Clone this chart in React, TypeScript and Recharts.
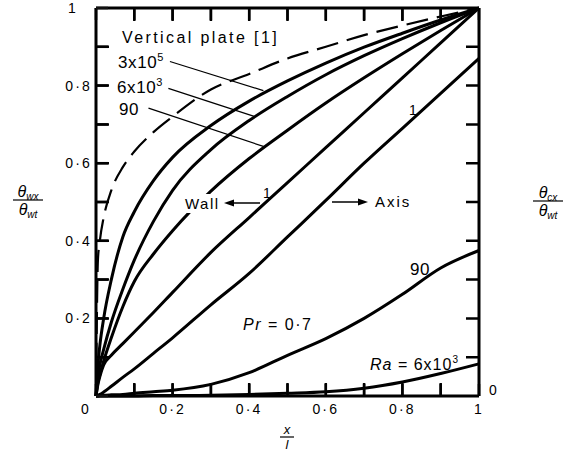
import React from "react";
import { LineChart, Line, XAxis, YAxis, ReferenceLine } from "recharts";

// x/l sample positions shared by every curve
const xs = [0, 0.005, 0.01, 0.02, 0.04, 0.07, 0.1, 0.15, 0.2, 0.3, 0.4, 0.5, 0.6, 0.7, 0.8, 0.9, 1];

// wall temperature curves (left axis)
const plate = [0, 0.35, 0.4, 0.46, 0.53, 0.59, 0.63, 0.68, 0.72, 0.79, 0.83, 0.87, 0.9, 0.93, 0.955, 0.978, 1];
const wall3e5 = [0, 0.08, 0.13, 0.2, 0.3, 0.41, 0.475, 0.555, 0.615, 0.697, 0.76, 0.812, 0.858, 0.899, 0.935, 0.969, 1];
const wall6e3 = [0, 0.05, 0.08, 0.12, 0.19, 0.275, 0.35, 0.45, 0.53, 0.635, 0.71, 0.772, 0.828, 0.877, 0.921, 0.962, 1];
const wall90 = [0, 0.035, 0.055, 0.09, 0.15, 0.23, 0.295, 0.366, 0.426, 0.528, 0.612, 0.685, 0.755, 0.82, 0.882, 0.942, 1];
const wall1 = [0, 0.03, 0.05, 0.08, 0.105, 0.135, 0.165, 0.215, 0.267, 0.37, 0.46, 0.55, 0.64, 0.73, 0.82, 0.91, 1];

// centre-line temperature curves (right axis)
const axis1 = [0, 0.002, 0.004, 0.01, 0.025, 0.048, 0.07, 0.11, 0.15, 0.235, 0.316, 0.41, 0.504, 0.6, 0.69, 0.78, 0.87];
const axis90 = [0, 0, 0.001, 0.002, 0.003, 0.004, 0.007, 0.011, 0.015, 0.03, 0.06, 0.105, 0.148, 0.2, 0.262, 0.33, 0.375];
const axis6e3 = [0, 0, 0, 0, 0, 0, 0, 0.001, 0.001, 0.002, 0.004, 0.007, 0.011, 0.02, 0.036, 0.058, 0.083];

const tickVals = [0, 0.1, 0.2, 0.3, 0.4, 0.5, 0.6, 0.7, 0.8, 0.9, 1];

// label leader lines: [from, to] in data units
const leader3e5 = [{ x: 0.193, y: 0.862 }, { x: 0.437, y: 0.787 }];
const leader6e3 = [{ x: 0.189, y: 0.793 }, { x: 0.415, y: 0.72 }];
const leader90 = [{ x: 0.137, y: 0.742 }, { x: 0.441, y: 0.642 }];

const data = xs.map((x, i) => ({
  x,
  plate: plate[i],
  wall3e5: wall3e5[i],
  wall6e3: wall6e3[i],
  wall90: wall90[i],
  wall1: wall1[i],
  axis1: axis1[i],
  axis90: axis90[i],
  axis6e3: axis6e3[i],
}));

const FONT = "Liberation Sans, Arial, sans-serif";
const W = 573;
const H = 454;
const TICK = 12; // inward tick length (negative tickSize)

// plot box, as set by the margins and axis sizes below
const PL = 96;
const PR = 479;
const PT = 8;
const PB = 396;
const px = (v: number) => PL + v * (PR - PL);
const py = (v: number) => PB - v * (PB - PT);

const tickPath = tickVals
  .filter((v) => v > 0 && v < 1)
  .map((v) => {
    const x = px(v).toFixed(1);
    const y = py(v).toFixed(1);
    return `M${x} ${PB}V${PB - 13}M${x} ${PT}V${PT + 13}M${PL} ${y}H${PL + 13}M${PR} ${y}H${PR - 13}`;
  })
  .join("");

const fmt = (v: number) => (v === 0 ? "0" : v === 1 ? "1" : "0·" + Math.round(v * 10));
const major = (v: number) => Math.round(v * 10) % 2 === 0;

const txt = { fontFamily: FONT, fontSize: 14, fill: "#000", letterSpacing: 2.2 } as const;

// with tickSize = -TICK and tickMargin = 0 the label anchor sits TICK px inside the plot
function BottomTick(p: any) {
  const v = p.payload.value;
  if (!major(v)) return <g />;
  const y = p.y + TICK;
  return (
    <text x={v === 0 ? p.x - 10 : p.x} y={y + 18} textAnchor="middle" {...txt}>
      {fmt(v)}
    </text>
  );
}

function LeftTick(p: any) {
  const v = p.payload.value;
  if (!major(v) || v === 0) return <g />;
  const x = p.x - TICK;
  return (
    <text
      x={v === 1 ? x - 23 : x - 4}
      y={p.y + 5}
      textAnchor={v === 1 ? "middle" : "end"}
      {...txt}
    >
      {fmt(v)}
    </text>
  );
}

function RightTick(p: any) {
  const v = p.payload.value;
  if (!major(v) || v === 0) return <g />;
  const x = p.x + TICK;
  const mid = v === 1;
  return (
    <text x={mid ? x + 15 : x + 3} y={p.y + 5} textAnchor={mid ? "middle" : "start"} {...txt}>
      {fmt(v)}
    </text>
  );
}

function Overlay() {
  const t = { fontFamily: FONT, fill: "#000" } as const;
  return (
    <svg width={W} height={H} style={{ position: "absolute", left: 0, top: 0 }}>
      {/* inward tick marks on all four sides */}
      <path d={tickPath} stroke="#000" strokeWidth={2.5} fill="none" />

      {/* right-hand zero, next to the bottom corner */}
      <text x={494} y={395} textAnchor="middle" {...txt}>
        0
      </text>

      <text x={122} y={43} fontSize={16} letterSpacing={2.4} {...t}>
        Vertical plate [1]
      </text>
      <text x={118} y={68} fontSize={17} letterSpacing={0.6} {...t}>
        3x10<tspan dy={-7} fontSize={11}>5</tspan>
      </text>
      <text x={117} y={93} fontSize={17} letterSpacing={0.6} {...t}>
        6x10<tspan dy={-7} fontSize={11}>3</tspan>
      </text>
      <text x={119} y={115} fontSize={17} letterSpacing={0.6} {...t}>
        90
      </text>

      <rect x={183} y={194} width={39} height={19} fill="#fff" />
      <text x={185} y={209} fontSize={15} letterSpacing={1.5} {...t}>
        Wall
      </text>
      <line x1={260} y1={203} x2={232} y2={203} stroke="#000" strokeWidth={1.5} />
      <polygon points="224,203 234,199.5 234,206.5" fill="#000" />
      <text x={267} y={198} fontSize={14} textAnchor="middle" {...t}>
        1
      </text>

      <line x1={332} y1={202} x2={360} y2={202} stroke="#000" strokeWidth={1.5} />
      <polygon points="368,202 358,198.5 358,205.5" fill="#000" />
      <text x={375} y={207} fontSize={15} letterSpacing={2} {...t}>
        Axis
      </text>
      <text x={413} y={115} fontSize={14} textAnchor="middle" {...t}>
        1
      </text>

      <text x={410} y={275} fontSize={17} letterSpacing={0.6} {...t}>
        90
      </text>
      <text x={243} y={330} fontSize={16} letterSpacing={1.5} {...t}>
        <tspan fontStyle="italic">Pr</tspan> = 0·7
      </text>
      <text x={370} y={370} fontSize={16} letterSpacing={1} {...t}>
        <tspan fontStyle="italic">Ra</tspan> = 6x10<tspan dy={-7} fontSize={10}>3</tspan>
      </text>

      {/* left axis title */}
      <text x={28} y={197} fontSize={16} textAnchor="middle" fontStyle="italic" {...t}>
        θ<tspan dy={3} fontSize={10}>wx</tspan>
      </text>
      <line x1={13} x2={43} y1={200} y2={200} stroke="#000" strokeWidth={1.2} />
      <text x={28} y={215} fontSize={16} textAnchor="middle" fontStyle="italic" {...t}>
        θ<tspan dy={3} fontSize={10}>wt</tspan>
      </text>

      {/* right axis title */}
      <text x={548} y={198} fontSize={16} textAnchor="middle" fontStyle="italic" {...t}>
        θ<tspan dy={3} fontSize={10}>cx</tspan>
      </text>
      <line x1={533} x2={563} y1={201} y2={201} stroke="#000" strokeWidth={1.2} />
      <text x={548} y={216} fontSize={16} textAnchor="middle" fontStyle="italic" {...t}>
        θ<tspan dy={3} fontSize={10}>wt</tspan>
      </text>

      {/* x axis title */}
      <text x={287} y={434} fontSize={13} textAnchor="middle" fontStyle="italic" {...t}>
        x
      </text>
      <line x1={280} x2={294} y1={437} y2={437} stroke="#000" strokeWidth={1.2} />
      <text x={287} y={449} fontSize={13} textAnchor="middle" fontStyle="italic" {...t}>
        l
      </text>
    </svg>
  );
}

const curve = { stroke: "#000", strokeWidth: 3, dot: false, isAnimationActive: false } as const;
const axisLine = { stroke: "#000", strokeWidth: 3 };
const tickLine = { stroke: "#111", strokeWidth: 2.5 };

export default function App() {
  return (
    <div style={{ position: "absolute", left: 0, top: 0, width: W, height: H, background: "#fff" }}>
      <LineChart width={W} height={H} data={data} margin={{ top: 0, right: 54, bottom: 28, left: 60 }}>
        <XAxis
          dataKey="x"
          type="number"
          domain={[0, 1]}
          ticks={tickVals}
          interval={0}
          height={30}
          tickSize={-TICK}
          tickMargin={0}
          tickLine={tickLine}
          axisLine={axisLine}
          tick={(p: any) => <BottomTick {...p} />}
        />
        <XAxis
          xAxisId="top"
          orientation="top"
          dataKey="x"
          type="number"
          domain={[0, 1]}
          ticks={tickVals}
          interval={0}
          height={8}
          tickSize={-TICK}
          tickMargin={0}
          tickLine={tickLine}
          axisLine={axisLine}
          tick={() => <g />}
        />
        <YAxis
          type="number"
          domain={[0, 1]}
          ticks={tickVals}
          interval={0}
          width={36}
          tickSize={-TICK}
          tickMargin={0}
          tickLine={tickLine}
          axisLine={axisLine}
          tick={(p: any) => <LeftTick {...p} />}
        />
        <YAxis
          yAxisId="right"
          orientation="right"
          type="number"
          domain={[0, 1]}
          ticks={tickVals}
          interval={0}
          width={40}
          tickSize={-TICK}
          tickMargin={0}
          tickLine={tickLine}
          axisLine={axisLine}
          tick={(p: any) => <RightTick {...p} />}
        />

        <ReferenceLine segment={leader3e5} stroke="#000" strokeWidth={1.2} ifOverflow="visible" />
        <ReferenceLine segment={leader6e3} stroke="#000" strokeWidth={1.2} ifOverflow="visible" />
        <ReferenceLine segment={leader90} stroke="#000" strokeWidth={1.2} ifOverflow="visible" />

        <Line type="monotone" dataKey="plate" {...curve} strokeWidth={2.2} strokeDasharray="22 9" />
        <Line type="monotone" dataKey="wall3e5" {...curve} />
        <Line type="monotone" dataKey="wall6e3" {...curve} />
        <Line type="monotone" dataKey="wall90" {...curve} />
        <Line type="monotone" dataKey="wall1" {...curve} />
        <Line type="monotone" dataKey="axis1" {...curve} />
        <Line type="monotone" dataKey="axis90" {...curve} />
        <Line type="monotone" dataKey="axis6e3" {...curve} />
      </LineChart>
      <Overlay />
    </div>
  );
}
